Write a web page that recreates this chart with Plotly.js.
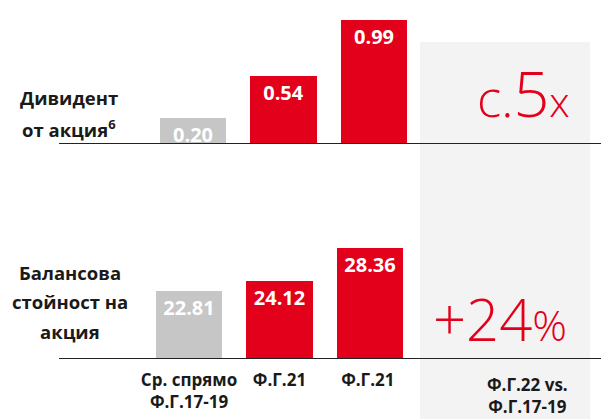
<!DOCTYPE html>
<html><head><meta charset="utf-8">
<script src="https://cdn.plot.ly/plotly-3.0.1.min.js"></script>
<style>html,body{margin:0;padding:0;background:#fff}#c{width:601px;height:419px}</style>
</head><body><div id="c"></div>
<script>
const categories = ['Ср. спрямо<br>Ф.Г.17-19', 'Ф.Г.21', 'Ф.Г.21 '];
const dividend = [0.20, 0.54, 0.99];
const dividendText = ['0.20', '0.54', '0.99'];
const bookValue = [22.81, 24.12, 28.36];
const bookValueText = ['22.81', '24.12', '28.36'];
const barColors = ['#c6c6c6', '#e2001a', '#e2001a'];
const summaryLabel = 'Ф.Г.22 vs.<br>Ф.Г.17-19';
const topTitle = ['Дивидент', 'от акция<sup>6</sup>'];
const bottomTitle = ['Балансова', 'стойност на', 'акция'];
const RED = '#e2001a';
const FONT = 'Open Sans, Noto Sans, sans-serif';
const W = 601, H = 419;
const px = v => v / W, py = v => 1 - v / H;

const traces = [
  {type:'bar', x:categories, y:dividend, xaxis:'x', yaxis:'y', marker:{color:barColors},
   width:0.73, text:dividendText, textposition:'inside', insidetextanchor:'end', constraintext:'none',
   textfont:{family:FONT, size:20, color:'#fff', weight:700}, hoverinfo:'none'},
  {type:'bar', x:categories, y:bookValue, xaxis:'x2', yaxis:'y2', marker:{color:barColors},
   width:0.73, text:bookValueText, textposition:'inside', insidetextanchor:'end', constraintext:'none',
   textfont:{family:FONT, size:20, color:'#fff', weight:700}, hoverinfo:'none'}
];

const ann = [];
topTitle.forEach((t,i)=>ann.push({xref:'paper',yref:'paper',x:px(69),y:py(98+i*30),text:t,showarrow:false,
  xanchor:'center',yanchor:'middle',font:{family:FONT,size:18.5,color:'#1a1a1a',weight:700}}));
bottomTitle.forEach((t,i)=>ann.push({xref:'paper',yref:'paper',x:px(70),y:py(272+i*29.5),text:t,showarrow:false,
  xanchor:'center',yanchor:'middle',font:{family:FONT,size:18.5,color:'#1a1a1a',weight:700}}));
ann.push({xref:'paper',yref:'paper',x:px(527),y:py(395),text:summaryLabel,showarrow:false,
  xanchor:'center',yanchor:'middle',font:{family:FONT,size:17,color:'#1a1a1a',weight:700}});
ann.push({xref:'paper',yref:'paper',x:px(572),y:py(92),text:'c.<span style="font-size:63px">5</span><span style="font-size:41px">x</span>',
  showarrow:false,xanchor:'right',yanchor:'middle',font:{family:FONT,size:51,color:RED,weight:300}});
ann.push({xref:'paper',yref:'paper',x:px(569),y:py(318),text:'+24<span style="font-size:43px">%</span>',
  showarrow:false,xanchor:'right',yanchor:'middle',font:{family:FONT,size:58,color:RED,weight:300}});

const layout = {
  width:W, height:H, margin:{l:0,r:0,t:0,b:0}, paper_bgcolor:'#fff', plot_bgcolor:'rgba(0,0,0,0)',
  showlegend:false, bargap:0,
  xaxis:{domain:[px(59),1], anchor:'y', type:'category', range:[-(193-59)/90.5, (601-193)/90.5],
    showticklabels:false, showline:true, linecolor:'#222', linewidth:1.3, ticks:'', showgrid:false, zeroline:false, fixedrange:true},
  yaxis:{domain:[py(143),1], range:[0, 143/124.2], visible:false, fixedrange:true},
  xaxis2:{domain:[px(59),1], anchor:'y2', type:'category', range:[-(189-59)/90.5, (601-189)/90.5],
    showline:true, linecolor:'#222', linewidth:1.3, ticks:'outside', ticklen:6, tickcolor:'rgba(0,0,0,0)',
    tickfont:{family:FONT,size:17,color:'#1a1a1a',weight:700}, showgrid:false, zeroline:false, fixedrange:true},
  yaxis2:{domain:[py(358), py(200)], range:[14.16, 14.16+158/7.75], visible:false, fixedrange:true},
  shapes:[{type:'rect',xref:'paper',yref:'paper',x0:px(420),x1:px(590),y0:0,y1:py(42),
    fillcolor:'#f3f3f3',line:{width:0},layer:'below'}],
  annotations:ann
};
Plotly.newPlot('c', traces, layout, {displayModeBar:false, staticPlot:true});
</script></body></html>
